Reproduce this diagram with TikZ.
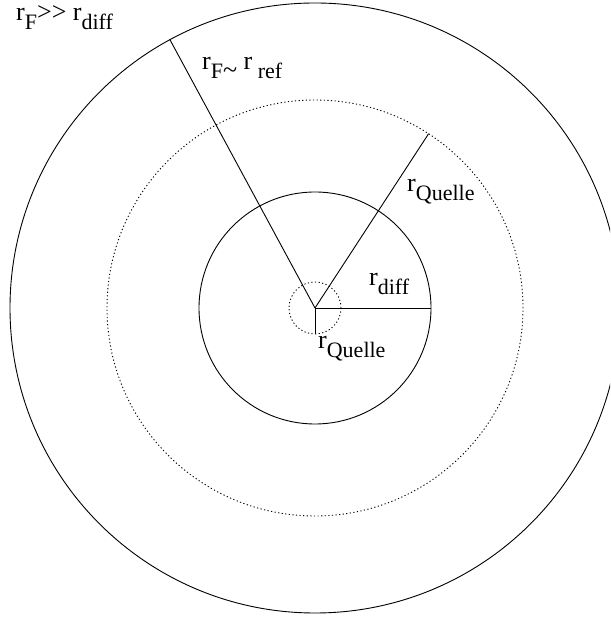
\documentclass[tikz,border=0pt]{standalone}
\usepackage{fontspec}
\setmainfont{Liberation Serif}
\usetikzlibrary{calc}
\newcommand{\rsub}[1]{\raisebox{-9pt}{\fontsize{22}{22}\selectfont #1}}

\begin{document}
\begin{tikzpicture}[x=1pt, y=1pt,
  ring/.style={draw, line width=0.9pt},
  dotring/.style={draw, line width=0.9pt, dash pattern=on 1.2pt off 2.4pt},
  radius line/.style={line width=0.9pt},
  lab/.style={anchor=base west, inner sep=0pt, font=\fontsize{26}{26}\selectfont}]
  \clip (0,0) rectangle (610,617);
  \coordinate (c) at (315,309);
  % circles
  \draw[ring] (c) circle[radius=305];
  \draw[dotring] (c) circle[radius=208];
  \draw[ring] (c) circle[radius=116];
  \draw[dotring] (c) circle[radius=26];
  % radii
  \coordinate (pF) at ($(c)+(118.4:305)$);
  \coordinate (pQ) at ($(c)+(56.9:208)$);
  \coordinate (pD) at ($(c)+(0:116)$);
  \coordinate (pq) at ($(c)+(-90:26)$);
  \draw[radius line] (c) -- (pF);
  \draw[radius line] (c) -- (pQ);
  \draw[radius line] (c) -- (pD);
  \draw[radius line] (c) -- (pq);
  % labels
  \node[lab] (lfd) at (16,596) {r\rsub{F}\mbox{>}\mbox{>} r\rsub{diff}};
  \node[lab] (lfr) at (202,547) {r\rsub{F{\fontsize{26}{26}\selectfont\textasciitilde}} r\rsub{ ref}};
  \node[lab] (ldiff) at (369,331) {r\rsub{diff}};
  \node[lab] (lq1) at (318,268) {r\rsub{Quelle}};
  \node[lab] (lq2) at (407,425) {r\rsub{Quelle}};
\end{tikzpicture}
\end{document}
